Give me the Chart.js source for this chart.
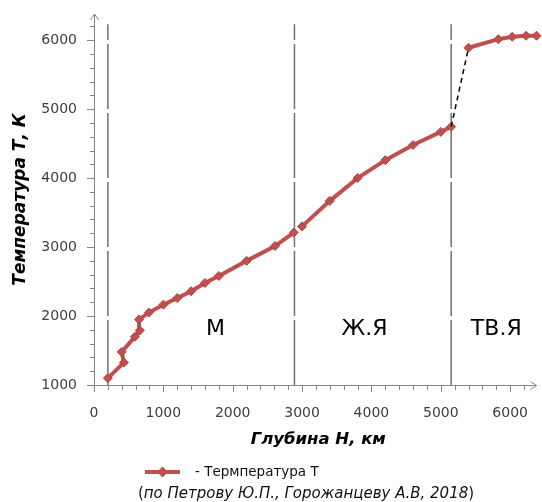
<!DOCTYPE html>
<html><head><meta charset="utf-8">
<script src="https://cdn.jsdelivr.net/npm/chart.js@4.4.1/dist/chart.umd.min.js"></script>
<style>html,body{margin:0;padding:0;background:#fff}#wrap{width:542px;height:502px;position:relative}</style>
</head><body><div id="wrap"><canvas id="c" width="542" height="502"></canvas></div>
<script>
// ---- data ----
const mantleDepth = [200, 430, 400, 590, 660, 650, 790, 1000, 1200, 1400, 1600, 1800, 2200, 2610, 2880];
const mantleTemp  = [1100, 1325, 1480, 1700, 1790, 1950, 2050, 2165, 2260, 2360, 2480, 2580, 2800, 3015, 3210];
const outerCoreDepth = [3000, 3400, 3800, 4200, 4600, 5000, 5150];
const outerCoreTemp  = [3300, 3670, 4000, 4260, 4480, 4670, 4745];
const innerCoreDepth = [5400, 5830, 6030, 6230, 6380];
const innerCoreTemp  = [5890, 6015, 6050, 6065, 6065];
const jumpDepth = [5150, 5400];
const jumpTemp  = [4745, 5890];
const boundaryDepth = [200, 2890, 5150];
const boundaryTemp  = [1000, 6230];
const regionNames = ['М', 'Ж.Я', 'ТВ.Я'];
const regionDepth = [1750, 3900, 5800];
const regionTemp  = [1810, 1810, 1810];
const xTickLabels = [0, 1000, 2000, 3000, 4000, 5000, 6000];
const yTickLabels = [1000, 2000, 3000, 4000, 5000, 6000];
const minorStep = 200;
const seriesName = '- Термпература Т';
const sourceText = 'по Петрову Ю.П., Горожанцеву А.В, 2018';
const xTitle = 'Глубина Н, км';
const yTitle = 'Температура Т, К';

const RED = '#C0504D';
const AXIS = '#868686';
const FONT = '"DejaVu Sans"';

function pts(xs, ys){ return xs.map((x,i)=>({x:x, y:ys[i]})); }
const tempPoints = [].concat(
  pts(mantleDepth, mantleTemp), [{x:(mantleDepth[mantleDepth.length-1]+outerCoreDepth[0])/2, y:null}],
  pts(outerCoreDepth, outerCoreTemp), [{x:(outerCoreDepth[outerCoreDepth.length-1]+innerCoreDepth[0])/2, y:null}],
  pts(innerCoreDepth, innerCoreTemp)
);

const datasets = [
  {label:'jump', data: pts(jumpDepth, jumpTemp), borderColor:'#000', borderWidth:1.5, borderDash:[5,4], pointRadius:0, fill:false},
  {label: seriesName, data: tempPoints, borderColor: RED, backgroundColor: RED, borderWidth:4,
   pointStyle:'rectRot', pointRadius:4.5, pointBorderWidth:1, pointBackgroundColor: RED, pointBorderColor:'#b04440',
   spanGaps:false, fill:false, clip:false},
];
boundaryDepth.forEach(d => datasets.push({
  label:'b'+d, data: [{x:d, y:boundaryTemp[0]}, {x:d, y:boundaryTemp[1]}],
  borderColor:'#6f6f6f', borderWidth:1.5, borderDash:[65,4], pointRadius:0, fill:false
}));

function minorTicks(from, to){ const a=[]; for(let v=from; v<=to; v+=minorStep) a.push({value:v}); return a; }

const decor = {
  id:'decor',
  afterDraw(chart){
    const ctx = chart.ctx, xs = chart.scales.x, ys = chart.scales.y, ca = chart.chartArea;
    ctx.save();
    // tick marks
    ctx.strokeStyle = AXIS; ctx.lineWidth = 1;
    xs.ticks.forEach(t => {
      const px = Math.round(xs.getPixelForValue(t.value)) + 0.5;
      const len = xTickLabels.includes(t.value) ? 7 : 5;
      ctx.beginPath(); ctx.moveTo(px, ca.bottom); ctx.lineTo(px, ca.bottom + len); ctx.stroke();
    });
    ys.ticks.forEach(t => {
      const py = Math.round(ys.getPixelForValue(t.value)) + 0.5;
      const len = yTickLabels.includes(t.value) ? 7 : 4;
      ctx.beginPath(); ctx.moveTo(ca.left, py); ctx.lineTo(ca.left - len, py); ctx.stroke();
    });
    // arrows
    ctx.beginPath();
    ctx.moveTo(ca.right - 6, ca.bottom - 3.5); ctx.lineTo(ca.right, ca.bottom + 0.5); ctx.lineTo(ca.right - 6, ca.bottom + 4.5);
    ctx.moveTo(ca.left - 3.5, ca.top + 6); ctx.lineTo(ca.left + 0.5, ca.top); ctx.lineTo(ca.left + 4.5, ca.top + 6);
    ctx.stroke();
    // region labels
    ctx.fillStyle = '#000';
    ctx.font = '22px ' + FONT;
    ctx.textAlign = 'center'; ctx.textBaseline = 'middle';
    regionNames.forEach((n,i) => ctx.fillText(n, xs.getPixelForValue(regionDepth[i]), ys.getPixelForValue(regionTemp[i])));
    // axis titles
    ctx.font = 'italic bold 16.5px ' + FONT;
    ctx.fillText(xTitle, (ca.left + ca.right)/2 + 3, 440);
    ctx.save();
    ctx.translate(21, (ca.top + ca.bottom)/2); ctx.rotate(-Math.PI/2);
    ctx.font = 'italic bold 17px ' + FONT;
    ctx.fillText(yTitle, 0, 0);
    ctx.restore();
    // legend
    const ly = 472;
    ctx.strokeStyle = RED; ctx.lineWidth = 4;
    ctx.beginPath(); ctx.moveTo(145, ly); ctx.lineTo(180, ly); ctx.stroke();
    ctx.fillStyle = RED;
    ctx.beginPath(); ctx.moveTo(162.5, ly-5.5); ctx.lineTo(168, ly); ctx.lineTo(162.5, ly+5.5); ctx.lineTo(157, ly); ctx.closePath(); ctx.fill();
    ctx.fillStyle = '#111';
    ctx.font = '13.5px ' + FONT; ctx.textAlign = 'left';
    ctx.fillText(seriesName, 195, ly);
    // source
    const cy = 494;
    ctx.font = 'italic 15px ' + FONT;
    const wIn = ctx.measureText(sourceText).width;
    ctx.font = '15px ' + FONT;
    const wP = ctx.measureText('(').width;
    const total = wIn + 2*wP;
    const sx = 306 - total/2;
    ctx.fillText('(', sx, cy);
    ctx.font = 'italic 15px ' + FONT;
    ctx.fillText(sourceText, sx + wP, cy);
    ctx.font = '15px ' + FONT;
    ctx.fillText(')', sx + wP + wIn, cy);
    ctx.restore();
  }
};

new Chart(document.getElementById('c'), {
  type:'line',
  data:{datasets},
  options:{
    responsive:false, animation:false, maintainAspectRatio:false,
    layout:{padding:{left:0, right:4, top:14, bottom:0}},
    plugins:{legend:{display:false}, tooltip:{enabled:false}},
    elements:{line:{tension:0}},
    scales:{
      x:{type:'linear', min:0, max:6380,
        grid:{display:true, drawOnChartArea:false, drawTicks:false},
        border:{display:true, color:AXIS, width:1},
        afterBuildTicks:(s)=>{ s.ticks = minorTicks(0, 6200); },
        ticks:{autoSkip:false, maxRotation:0, padding:20,
          color:'#404040', font:{family:FONT, size:14},
          callback:(v)=> xTickLabels.includes(v) ? String(v) : ''},
        afterFit:(s)=>{ s.height = 117; s.paddingLeft = 0; s.paddingRight = 0; }
      },
      y:{type:'linear', min:1000, max:6380,
        grid:{display:true, drawOnChartArea:false, drawTicks:false},
        border:{display:true, color:AXIS, width:1},
        afterBuildTicks:(s)=>{ s.ticks = minorTicks(1000, 6200); },
        ticks:{autoSkip:false, padding:17,
          color:'#404040', font:{family:FONT, size:14},
          callback:(v)=> yTickLabels.includes(v) ? String(v) : ''},
        afterFit:(s)=>{ s.width = 94; s.paddingTop = 0; s.paddingBottom = 0; }
      }
    }
  },
  plugins:[decor]
});
</script>
</body></html>
